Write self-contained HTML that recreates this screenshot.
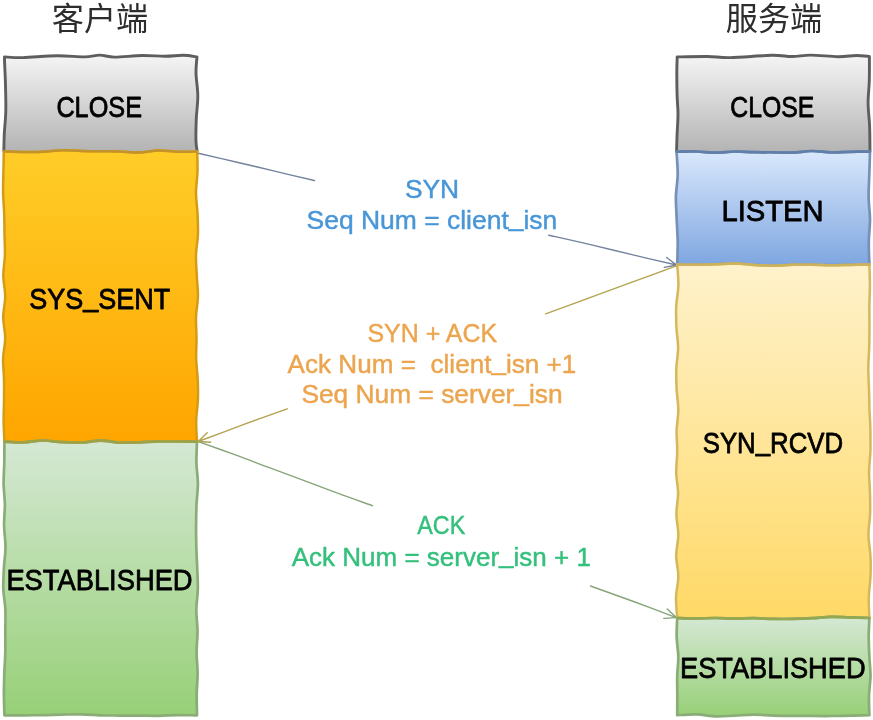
<!DOCTYPE html>
<html lang="zh-CN">
<head>
<meta charset="utf-8">
<title>TCP 三次握手</title>
<style>
html,body{margin:0;padding:0;background:#fff;}
body{width:873px;height:720px;overflow:hidden;}
svg{display:block;}
.lbl{font-family:"Liberation Sans", sans-serif;font-size:30px;fill:#000;stroke:#000;stroke-width:0.8px;stroke-linejoin:round;}
.msg{font-family:"Liberation Sans", sans-serif;font-size:26.5px;white-space:pre;stroke-width:0.45px;stroke-linejoin:round;}
.ttl{font-family:"Liberation Sans", "Noto Sans CJK SC", sans-serif;font-size:32.2px;fill:#2d2d2d;}
</style>
</head>
<body>
<svg width="873" height="720" viewBox="0 0 873 720" role="img" aria-label="TCP three-way handshake">
<defs>
<linearGradient id="gGray" x1="0" y1="0" x2="0" y2="1"><stop offset="0" stop-color="#f5f5f5"/><stop offset="1" stop-color="#b3b3b3"/></linearGradient>
<linearGradient id="gOrange" x1="0" y1="0" x2="0" y2="1"><stop offset="0" stop-color="#ffcd28"/><stop offset="1" stop-color="#ffa500"/></linearGradient>
<linearGradient id="gGreen" x1="0" y1="0" x2="0" y2="1"><stop offset="0" stop-color="#d5e8d4"/><stop offset="1" stop-color="#97d077"/></linearGradient>
<linearGradient id="gBlue" x1="0" y1="0" x2="0" y2="1"><stop offset="0" stop-color="#dae8fc"/><stop offset="1" stop-color="#7ea6e0"/></linearGradient>
<linearGradient id="gYellow" x1="0" y1="0" x2="0" y2="1"><stop offset="0" stop-color="#fff2cc"/><stop offset="1" stop-color="#ffd966"/></linearGradient>
<filter id="soft" x="0" y="0" width="873" height="720" filterUnits="userSpaceOnUse" color-interpolation-filters="sRGB"><feGaussianBlur stdDeviation="0.5"/></filter>
</defs>
<rect width="873" height="720" fill="#ffffff"/>
<g filter="url(#soft)">
<text class="ttl" x="100" y="30.4" text-anchor="middle">客户端</text>
<text class="ttl" x="774" y="30.4" text-anchor="middle">服务端</text>
<path d="M198.2 153.3C204.7 154.8 224.1 159.2 237.0 162.2C249.9 165.2 262.8 168.4 275.7 171.4C288.6 174.5 308.0 179.0 314.5 180.5M548.8 235.2C555.9 236.8 577.3 241.5 591.5 244.9C605.7 248.2 619.8 251.8 634.0 255.1C648.2 258.5 669.5 263.4 676.6 265.0M664.3 267.4L676.6 265.0L666.6 257.5" fill="none" stroke="#73839e" stroke-width="1.4" stroke-linecap="round" stroke-linejoin="round"/>
<path d="M676.3 265.9C669.0 268.6 647.3 276.6 632.7 281.9C618.2 287.2 603.7 292.6 589.2 297.9C574.7 303.3 552.9 311.2 545.6 313.9M287.2 408.8C279.8 411.5 257.5 419.5 242.6 424.9C227.8 430.4 205.6 438.7 198.2 441.5M207.2 432.8L198.2 441.5L210.7 442.3" fill="none" stroke="#b3a24e" stroke-width="1.4" stroke-linecap="round" stroke-linejoin="round"/>
<path d="M198.4 441.6C204.2 443.7 221.7 449.9 233.3 454.2C244.9 458.4 256.5 462.9 268.0 467.2C279.6 471.6 291.3 475.7 302.9 480.1C314.4 484.4 325.9 489.0 337.6 493.2C349.2 497.5 366.7 503.6 372.5 505.7M590.5 586.0C597.7 588.6 619.2 596.3 633.5 601.5C647.8 606.8 669.2 614.9 676.3 617.6M663.8 618.4L676.3 617.6L667.3 608.9" fill="none" stroke="#86a578" stroke-width="1.4" stroke-linecap="round" stroke-linejoin="round"/>
<path d="M4.4 56.9C7.5 57.0 14.1 57.8 22.9 57.6C31.7 57.4 47.0 55.9 57.3 55.8C67.6 55.7 77.7 57.0 84.8 56.9C91.9 56.8 94.8 55.1 99.7 55.1C104.7 55.1 107.5 57.0 114.5 57.1C121.5 57.2 133.6 55.6 142.0 55.5C150.4 55.4 158.1 56.2 165.0 56.2C171.9 56.2 178.0 55.2 183.3 55.3C188.6 55.4 194.7 56.6 197.0 56.9C196.8 59.6 195.9 66.4 196.0 72.9C196.1 79.4 197.8 88.2 197.8 95.8C197.9 103.4 196.6 111.1 196.3 118.7C196.0 126.3 195.8 136.2 196.0 141.6C196.2 147.0 197.0 149.7 197.2 151.3C194.0 151.4 184.2 151.9 177.7 151.7C171.3 151.6 164.9 150.3 158.5 150.4C152.1 150.5 145.6 152.3 139.2 152.4C132.8 152.6 126.4 151.6 120.0 151.4C113.5 151.2 107.1 151.3 100.7 151.2C94.3 151.2 87.9 151.1 81.4 150.9C75.0 150.8 68.6 150.2 62.2 150.3C55.8 150.5 49.3 151.4 42.9 151.7C36.5 152.0 30.2 152.0 23.7 152.0C17.1 151.9 7.1 151.4 3.8 151.3C3.9 148.4 4.0 140.7 4.3 134.0C4.6 127.3 5.6 119.7 5.8 111.0C6.0 102.3 5.6 88.8 5.4 82.0C5.2 75.2 5.1 74.2 4.9 70.0C4.7 65.8 4.5 59.1 4.4 56.9Z" fill="url(#gGray)"/>
<path id="c-close" d="M3.8 151.3C3.9 148.4 4.0 140.7 4.3 134.0C4.6 127.3 5.6 119.7 5.8 111.0C6.0 102.3 5.6 88.8 5.4 82.0C5.2 75.2 5.1 74.2 4.9 70.0C4.7 65.8 4.5 59.1 4.4 56.9C7.5 57.0 14.1 57.8 22.9 57.6C31.7 57.4 47.0 55.9 57.3 55.8C67.6 55.7 77.7 57.0 84.8 56.9C91.9 56.8 94.8 55.1 99.7 55.1C104.7 55.1 107.5 57.0 114.5 57.1C121.5 57.2 133.6 55.6 142.0 55.5C150.4 55.4 158.1 56.2 165.0 56.2C171.9 56.2 178.0 55.2 183.3 55.3C188.6 55.4 194.7 56.6 197.0 56.9C196.8 59.6 195.9 66.4 196.0 72.9C196.1 79.4 197.8 88.2 197.8 95.8C197.9 103.4 196.6 111.1 196.3 118.7C196.0 126.3 195.8 136.2 196.0 141.6C196.2 147.0 197.0 149.7 197.2 151.3" fill="none" stroke="#5e5e5e" stroke-width="2.9" stroke-linejoin="round" stroke-linecap="butt"/>
<path id="c-sent" d="M3.8 151.3C7.1 151.4 17.1 151.9 23.7 152.0C30.2 152.0 36.5 152.0 42.9 151.7C49.3 151.4 55.8 150.5 62.2 150.3C68.6 150.2 75.0 150.8 81.4 150.9C87.9 151.1 94.3 151.2 100.7 151.2C107.1 151.3 113.5 151.2 120.0 151.4C126.4 151.6 132.8 152.6 139.2 152.4C145.6 152.3 152.1 150.5 158.5 150.4C164.9 150.3 171.3 151.6 177.7 151.7C184.2 151.9 194.0 151.4 197.2 151.3C197.3 154.8 197.7 165.1 197.5 172.0C197.3 178.9 196.0 185.9 196.0 192.8C196.0 199.7 197.2 206.6 197.5 213.5C197.8 220.4 198.2 227.3 197.9 234.2C197.7 241.2 196.2 248.1 196.0 255.0C195.8 261.9 196.5 268.8 196.8 275.7C197.1 282.6 198.1 289.5 197.9 296.5C197.8 303.4 196.2 310.3 196.0 317.2C195.8 324.1 196.5 331.0 196.5 337.9C196.6 344.8 196.0 351.7 196.2 358.7C196.4 365.6 197.4 372.5 197.7 379.4C198.0 386.3 198.2 393.2 197.9 400.1C197.7 407.0 196.3 414.0 196.2 420.9C196.0 427.8 196.9 438.1 197.0 441.6C193.8 441.5 184.2 441.3 177.7 441.3C171.3 441.3 164.9 441.2 158.5 441.4C152.1 441.5 145.6 442.1 139.2 442.3C132.8 442.5 126.4 442.8 120.0 442.6C113.5 442.3 107.1 440.6 100.7 440.6C94.3 440.6 87.9 442.2 81.4 442.5C75.0 442.7 68.6 442.5 62.2 442.2C55.8 441.9 49.3 440.5 42.9 440.5C36.5 440.6 30.1 442.1 23.7 442.3C17.2 442.5 7.6 441.7 4.4 441.6C4.3 438.1 3.7 427.8 3.6 420.9C3.6 414.0 3.9 407.0 4.0 400.1C4.1 393.2 4.1 386.3 4.0 379.4C3.9 372.5 2.9 365.6 3.1 358.7C3.3 351.7 5.2 344.8 5.2 337.9C5.2 331.0 3.2 324.1 3.2 317.2C3.2 310.3 5.2 303.4 5.2 296.4C5.2 289.5 3.4 282.6 3.3 275.7C3.3 268.8 4.7 261.9 4.9 255.0C5.1 248.1 4.6 241.2 4.5 234.2C4.4 227.3 4.4 220.4 4.2 213.5C3.9 206.6 3.2 199.7 3.1 192.8C3.0 185.9 3.3 178.9 3.4 172.0C3.6 165.1 3.7 154.8 3.8 151.3Z" fill="url(#gOrange)" stroke="#d49c14" stroke-width="2.5" stroke-linejoin="round"/>
<path d="M3.8 151.3C7.1 151.4 17.1 151.9 23.7 152.0C30.2 152.0 36.5 152.0 42.9 151.7C49.3 151.4 55.8 150.5 62.2 150.3C68.6 150.2 75.0 150.8 81.4 150.9C87.9 151.1 94.3 151.2 100.7 151.2C107.1 151.3 113.5 151.2 120.0 151.4C126.4 151.6 132.8 152.6 139.2 152.4C145.6 152.3 152.1 150.5 158.5 150.4C164.9 150.3 171.3 151.6 177.7 151.7C184.2 151.9 194.0 151.4 197.2 151.3" fill="none" stroke="#c4922a" stroke-width="2.5" stroke-linecap="round"/>
<path id="c-est" d="M4.4 441.6C7.6 441.7 17.2 442.5 23.7 442.3C30.1 442.1 36.5 440.6 42.9 440.5C49.3 440.5 55.8 441.9 62.2 442.2C68.6 442.5 75.0 442.7 81.4 442.5C87.9 442.2 94.3 440.6 100.7 440.6C107.1 440.6 113.5 442.3 120.0 442.6C126.4 442.8 132.8 442.5 139.2 442.3C145.6 442.1 152.1 441.5 158.5 441.4C164.9 441.2 171.3 441.3 177.7 441.3C184.2 441.3 193.8 441.5 197.0 441.6C196.9 445.1 196.3 455.6 196.4 462.7C196.6 469.7 197.9 476.7 197.9 483.7C197.9 490.7 196.8 497.7 196.5 504.8C196.2 511.8 196.1 518.8 196.1 525.8C196.0 532.8 196.2 539.9 196.3 546.9C196.5 553.9 197.0 560.9 197.2 567.9C197.5 574.9 198.0 582.0 197.8 589.0C197.7 596.0 196.4 603.0 196.3 610.0C196.3 617.0 197.5 624.1 197.5 631.1C197.6 638.1 196.6 645.1 196.6 652.1C196.6 659.2 197.6 666.2 197.6 673.2C197.6 680.2 196.8 687.2 196.7 694.2C196.6 701.3 197.0 711.8 197.0 715.3C193.8 715.3 184.2 715.1 177.7 715.1C171.3 715.2 164.9 715.7 158.5 715.8C152.1 715.9 145.6 715.6 139.2 715.6C132.8 715.6 126.4 715.7 120.0 715.6C113.5 715.5 107.1 715.5 100.7 715.3C94.3 715.1 87.9 714.5 81.4 714.4C75.0 714.3 68.6 714.5 62.2 714.6C55.8 714.7 49.3 715.0 42.9 715.1C36.5 715.2 30.1 715.3 23.7 715.4C17.2 715.4 7.6 715.3 4.4 715.3C4.3 711.8 4.0 701.3 3.9 694.2C3.9 687.2 4.1 680.2 4.3 673.2C4.6 666.2 5.2 659.2 5.3 652.1C5.5 645.1 5.3 638.1 5.3 631.1C5.3 624.1 5.7 617.0 5.4 610.0C5.1 603.0 3.6 596.0 3.3 589.0C3.1 582.0 3.6 574.9 3.9 567.9C4.3 560.9 5.5 553.9 5.5 546.9C5.5 539.9 4.2 532.8 4.1 525.8C3.9 518.8 4.9 511.8 4.9 504.8C4.8 497.7 3.7 490.7 3.6 483.7C3.5 476.7 4.1 469.7 4.3 462.7C4.4 455.6 4.4 445.1 4.4 441.6Z" fill="url(#gGreen)" stroke="#8aac76" stroke-width="2.7" stroke-linejoin="round"/>
<path d="M4.4 441.6C7.6 441.7 17.2 442.5 23.7 442.3C30.1 442.1 36.5 440.6 42.9 440.5C49.3 440.5 55.8 441.9 62.2 442.2C68.6 442.5 75.0 442.7 81.4 442.5C87.9 442.2 94.3 440.6 100.7 440.6C107.1 440.6 113.5 442.3 120.0 442.6C126.4 442.8 132.8 442.5 139.2 442.3C145.6 442.1 152.1 441.5 158.5 441.4C164.9 441.2 171.3 441.3 177.7 441.3C184.2 441.3 193.8 441.5 197.0 441.6" fill="none" stroke="#a0a144" stroke-width="2.7" stroke-linecap="round"/>
<path d="M677.2 56.9C682.2 56.8 698.5 56.4 707.4 56.5C716.2 56.6 719.6 57.8 730.3 57.6C741.0 57.4 761.2 55.5 771.5 55.3C781.8 55.1 785.6 56.5 792.1 56.5C798.6 56.5 802.9 55.1 810.5 55.1C818.1 55.1 830.4 56.6 838.0 56.7C845.6 56.8 851.1 55.5 856.3 55.5C861.5 55.5 867.2 56.3 869.4 56.5C869.4 60.5 869.5 72.7 869.3 80.5C869.1 88.3 868.0 95.8 868.1 103.4C868.2 111.0 869.3 118.3 869.6 126.3C869.9 134.3 869.9 147.4 870.0 151.6C866.7 151.6 856.7 151.7 850.2 151.8C843.7 151.9 837.4 152.4 831.0 152.3C824.6 152.2 818.1 151.0 811.7 151.0C805.3 151.1 798.9 152.4 792.5 152.6C786.1 152.9 779.7 152.4 773.3 152.3C766.9 152.2 760.5 152.4 754.1 152.2C747.7 152.1 741.3 151.5 734.9 151.5C728.5 151.6 722.0 152.7 715.6 152.7C709.2 152.7 702.9 151.7 696.4 151.5C689.9 151.3 679.8 151.6 676.5 151.6C676.6 148.7 676.9 140.2 677.1 134.0C677.4 127.8 678.0 120.5 678.0 114.1C678.0 107.7 677.3 102.7 677.1 95.8C676.9 88.9 676.8 79.4 676.8 72.9C676.8 66.4 677.1 59.6 677.2 56.9Z" fill="url(#gGray)"/>
<path id="s-close" d="M676.5 151.6C676.6 148.7 676.9 140.2 677.1 134.0C677.4 127.8 678.0 120.5 678.0 114.1C678.0 107.7 677.3 102.7 677.1 95.8C676.9 88.9 676.8 79.4 676.8 72.9C676.8 66.4 677.1 59.6 677.2 56.9C682.2 56.8 698.5 56.4 707.4 56.5C716.2 56.6 719.6 57.8 730.3 57.6C741.0 57.4 761.2 55.5 771.5 55.3C781.8 55.1 785.6 56.5 792.1 56.5C798.6 56.5 802.9 55.1 810.5 55.1C818.1 55.1 830.4 56.6 838.0 56.7C845.6 56.8 851.1 55.5 856.3 55.5C861.5 55.5 867.2 56.3 869.4 56.5C869.4 60.5 869.5 72.7 869.3 80.5C869.1 88.3 868.0 95.8 868.1 103.4C868.2 111.0 869.3 118.3 869.6 126.3C869.9 134.3 869.9 147.4 870.0 151.6" fill="none" stroke="#5e5e5e" stroke-width="2.9" stroke-linejoin="round" stroke-linecap="butt"/>
<path id="s-listen" d="M676.5 151.6C679.8 151.6 689.9 151.3 696.4 151.5C702.9 151.7 709.2 152.7 715.6 152.7C722.0 152.7 728.5 151.6 734.9 151.5C741.3 151.5 747.7 152.1 754.1 152.2C760.5 152.4 766.9 152.2 773.3 152.3C779.7 152.4 786.1 152.9 792.5 152.6C798.9 152.4 805.3 151.1 811.7 151.0C818.1 151.0 824.6 152.2 831.0 152.3C837.4 152.4 843.7 151.9 850.2 151.8C856.7 151.7 866.7 151.6 870.0 151.6C869.9 155.4 869.6 166.7 869.3 174.2C869.1 181.7 868.5 189.3 868.6 196.8C868.7 204.3 869.9 211.9 870.0 219.4C870.0 226.9 868.9 234.5 868.8 242.0C868.7 249.5 869.3 260.8 869.4 264.6C866.2 264.7 856.6 264.8 850.2 264.9C843.8 265.0 837.4 265.2 831.0 265.2C824.6 265.2 818.1 264.8 811.7 264.8C805.3 264.7 798.9 264.7 792.5 264.8C786.1 265.0 779.7 265.7 773.3 265.7C766.9 265.7 760.5 265.3 754.1 265.0C747.7 264.6 741.3 263.6 734.9 263.5C728.5 263.4 722.0 264.1 715.6 264.3C709.2 264.5 702.8 264.8 696.4 264.8C690.0 264.9 680.4 264.6 677.2 264.6C677.3 260.8 677.8 249.5 677.7 242.0C677.6 234.5 677.0 226.9 676.7 219.4C676.4 211.9 675.8 204.3 675.9 196.8C676.1 189.3 677.6 181.7 677.7 174.2C677.8 166.7 676.7 155.4 676.5 151.6Z" fill="url(#gBlue)" stroke="#7690b8" stroke-width="2.7" stroke-linejoin="round"/>
<path d="M676.5 151.6C679.8 151.6 689.9 151.3 696.4 151.5C702.9 151.7 709.2 152.7 715.6 152.7C722.0 152.7 728.5 151.6 734.9 151.5C741.3 151.5 747.7 152.1 754.1 152.2C760.5 152.4 766.9 152.2 773.3 152.3C779.7 152.4 786.1 152.9 792.5 152.6C798.9 152.4 805.3 151.1 811.7 151.0C818.1 151.0 824.6 152.2 831.0 152.3C837.4 152.4 843.7 151.9 850.2 151.8C856.7 151.7 866.7 151.6 870.0 151.6" fill="none" stroke="#5f7ea8" stroke-width="2.7" stroke-linecap="round"/>
<path id="s-rcvd" d="M677.2 264.6C680.4 264.6 690.0 264.9 696.4 264.8C702.8 264.8 709.2 264.5 715.6 264.3C722.0 264.1 728.5 263.4 734.9 263.5C741.3 263.6 747.7 264.6 754.1 265.0C760.5 265.3 766.9 265.7 773.3 265.7C779.7 265.7 786.1 265.0 792.5 264.8C798.9 264.7 805.3 264.7 811.7 264.8C818.1 264.8 824.6 265.2 831.0 265.2C837.4 265.2 843.8 265.0 850.2 264.9C856.6 264.8 866.2 264.7 869.4 264.6C869.5 268.1 869.9 278.5 869.9 285.4C869.9 292.3 869.5 299.2 869.4 306.2C869.3 313.1 869.5 320.0 869.5 327.0C869.4 333.9 869.4 340.8 869.2 347.8C869.0 354.7 868.3 361.6 868.3 368.5C868.3 375.5 868.8 382.4 869.0 389.3C869.3 396.3 869.3 403.2 869.5 410.1C869.8 417.0 870.3 424.0 870.4 430.9C870.5 437.8 870.6 444.8 870.4 451.7C870.1 458.6 869.1 465.6 869.1 472.5C869.0 479.4 869.9 486.3 870.0 493.3C870.2 500.2 870.3 507.1 870.1 514.1C869.8 521.0 868.4 527.9 868.5 534.8C868.5 541.8 870.1 548.7 870.4 555.6C870.8 562.6 870.8 569.5 870.5 576.4C870.2 583.4 869.0 590.3 868.8 597.2C868.6 604.1 869.3 614.5 869.4 618.0C866.2 617.9 856.6 617.6 850.2 617.4C843.8 617.2 837.4 616.7 831.0 616.8C824.6 616.9 818.1 617.9 811.7 618.2C805.3 618.6 798.9 618.8 792.5 618.9C786.1 619.0 779.7 619.0 773.3 618.9C766.9 618.8 760.5 618.2 754.1 618.2C747.7 618.1 741.3 618.7 734.9 618.7C728.5 618.6 722.0 618.0 715.6 618.0C709.2 618.0 702.8 618.5 696.4 618.5C690.0 618.5 680.4 618.1 677.2 618.0C677.0 614.5 675.8 604.1 676.0 597.2C676.2 590.3 678.3 583.4 678.3 576.4C678.4 569.5 676.2 562.6 676.2 555.6C676.2 548.7 678.3 541.8 678.3 534.8C678.3 527.9 676.4 521.0 676.4 514.1C676.3 507.1 678.1 500.2 678.1 493.3C678.0 486.3 676.3 479.4 676.2 472.5C676.1 465.6 677.2 458.6 677.2 451.7C677.3 444.8 676.5 437.8 676.6 430.9C676.8 424.0 678.3 417.0 678.3 410.1C678.3 403.2 677.0 396.3 676.6 389.3C676.3 382.4 676.1 375.5 676.3 368.5C676.6 361.6 678.1 354.7 678.1 347.8C678.1 340.8 676.7 333.9 676.4 327.0C676.1 320.0 675.9 313.1 676.2 306.2C676.6 299.2 678.2 292.3 678.4 285.4C678.5 278.5 677.4 268.1 677.2 264.6Z" fill="url(#gYellow)" stroke="#d4b85c" stroke-width="2.5" stroke-linejoin="round"/>
<path d="M677.2 264.6C680.4 264.6 690.0 264.9 696.4 264.8C702.8 264.8 709.2 264.5 715.6 264.3C722.0 264.1 728.5 263.4 734.9 263.5C741.3 263.6 747.7 264.6 754.1 265.0C760.5 265.3 766.9 265.7 773.3 265.7C779.7 265.7 786.1 265.0 792.5 264.8C798.9 264.7 805.3 264.7 811.7 264.8C818.1 264.8 824.6 265.2 831.0 265.2C837.4 265.2 843.8 265.0 850.2 264.9C856.6 264.8 866.2 264.7 869.4 264.6" fill="none" stroke="#ccb25c" stroke-width="2.5" stroke-linecap="round"/>
<path id="s-est" d="M677.2 618.0C680.4 618.1 690.0 618.5 696.4 618.5C702.8 618.5 709.2 618.0 715.6 618.0C722.0 618.0 728.5 618.6 734.9 618.7C741.3 618.7 747.7 618.1 754.1 618.2C760.5 618.2 766.9 618.8 773.3 618.9C779.7 619.0 786.1 619.0 792.5 618.9C798.9 618.8 805.3 618.6 811.7 618.2C818.1 617.9 824.6 616.9 831.0 616.8C837.4 616.7 843.8 617.2 850.2 617.4C856.6 617.6 866.2 617.9 869.4 618.0C869.3 621.2 868.7 631.0 868.7 637.4C868.7 643.9 869.1 650.4 869.4 656.9C869.7 663.4 870.5 669.8 870.5 676.3C870.4 682.8 869.1 689.3 869.0 695.8C868.8 702.2 869.3 712.0 869.4 715.2C866.2 715.3 856.6 715.6 850.2 715.7C843.8 715.8 837.4 716.0 831.0 716.0C824.6 716.1 818.1 716.0 811.7 715.9C805.3 715.9 798.9 716.0 792.5 715.9C786.1 715.8 779.7 715.8 773.3 715.6C766.9 715.4 760.5 714.7 754.1 714.7C747.7 714.7 741.3 715.4 734.9 715.7C728.5 715.9 722.0 716.5 715.6 716.3C709.2 716.1 702.8 714.5 696.4 714.3C690.0 714.1 680.4 715.0 677.2 715.2C677.2 712.0 677.3 702.2 677.3 695.8C677.3 689.3 677.1 682.8 677.2 676.3C677.4 669.8 678.4 663.4 678.3 656.9C678.2 650.4 676.9 643.9 676.7 637.4C676.5 631.0 677.1 621.2 677.2 618.0Z" fill="url(#gGreen)" stroke="#8aac76" stroke-width="2.7" stroke-linejoin="round"/>
<path d="M677.2 618.0C680.4 618.1 690.0 618.5 696.4 618.5C702.8 618.5 709.2 618.0 715.6 618.0C722.0 618.0 728.5 618.6 734.9 618.7C741.3 618.7 747.7 618.1 754.1 618.2C760.5 618.2 766.9 618.8 773.3 618.9C779.7 619.0 786.1 619.0 792.5 618.9C798.9 618.8 805.3 618.6 811.7 618.2C818.1 617.9 824.6 616.9 831.0 616.8C837.4 616.7 843.8 617.2 850.2 617.4C856.6 617.6 866.2 617.9 869.4 618.0" fill="none" stroke="#93a850" stroke-width="2.7" stroke-linecap="round"/>
<text class="lbl" x="56.4" y="117.0" textLength="85.6" lengthAdjust="spacingAndGlyphs">CLOSE</text>
<text class="lbl" x="29.2" y="309.2" dy="0 0 0 -3 3" textLength="141.1" lengthAdjust="spacingAndGlyphs">SYS_SENT</text>
<text class="lbl" x="6.4" y="589.8" textLength="186.2" lengthAdjust="spacingAndGlyphs">ESTABLISHED</text>
<text class="lbl" x="730.3" y="117.0" textLength="84.0" lengthAdjust="spacingAndGlyphs">CLOSE</text>
<text class="lbl" x="721.4" y="220.6" textLength="102.3" lengthAdjust="spacingAndGlyphs">LISTEN</text>
<text class="lbl" x="702.7" y="453.2" dy="0 0 0 -3 3" textLength="140.4" lengthAdjust="spacingAndGlyphs">SYN_RCVD</text>
<text class="lbl" x="680.0" y="678.4" textLength="185.6" lengthAdjust="spacingAndGlyphs">ESTABLISHED</text>
<text class="msg" x="404.9" y="197.8" textLength="54.3" lengthAdjust="spacingAndGlyphs" fill="#4896d8" stroke="#4896d8" xml:space="preserve">SYN</text>
<text class="msg" x="306.6" y="228.8" dy="0 0 0 0 0 0 0 0 0 0 0 0 0 0 0 0 -2.5 2.5" textLength="250.7" lengthAdjust="spacingAndGlyphs" fill="#4896d8" stroke="#4896d8" xml:space="preserve">Seq Num = client_isn</text>
<text class="msg" x="367.4" y="342.1" textLength="129.7" lengthAdjust="spacingAndGlyphs" fill="#eca54e" stroke="#eca54e" xml:space="preserve">SYN + ACK</text>
<text class="msg" x="287.6" y="372.7" dy="0 0 0 0 0 0 0 0 0 0 0 0 0 0 0 0 0 -2.5 2.5" textLength="288.7" lengthAdjust="spacingAndGlyphs" fill="#eca54e" stroke="#eca54e" xml:space="preserve">Ack Num =  client_isn +1</text>
<text class="msg" x="301.4" y="403.0" dy="0 0 0 0 0 0 0 0 0 0 0 0 0 0 0 0 -2.5 2.5" textLength="261.2" lengthAdjust="spacingAndGlyphs" fill="#eca54e" stroke="#eca54e" xml:space="preserve">Seq Num = server_isn</text>
<text class="msg" x="417.3" y="534.3" textLength="48.0" lengthAdjust="spacingAndGlyphs" fill="#34c07c" stroke="#34c07c" xml:space="preserve">ACK</text>
<text class="msg" x="291.7" y="565.5" dy="0 0 0 0 0 0 0 0 0 0 0 0 0 0 0 0 -2.5 2.5" textLength="299.2" lengthAdjust="spacingAndGlyphs" fill="#34c07c" stroke="#34c07c" xml:space="preserve">Ack Num = server_isn + 1</text>
</g>
</svg>
</body>
</html>
